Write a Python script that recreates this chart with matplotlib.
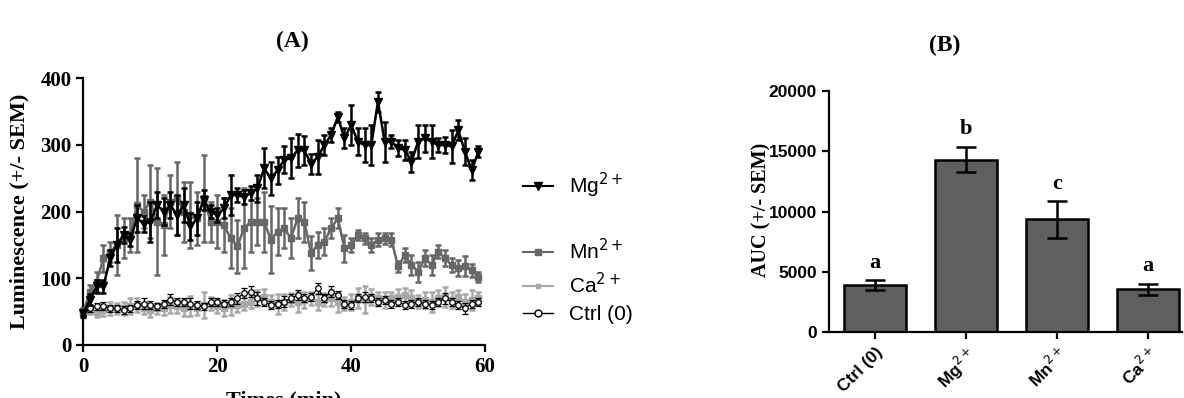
import matplotlib
matplotlib.use("Agg")
import matplotlib.pyplot as plt
from matplotlib.lines import Line2D
import numpy as np

# ---- panel A: luminescence time course ----
times = np.arange(0, 60)

mg_mean = [48, 68, 88, 88, 130, 150, 165, 158, 190, 182, 185, 210, 200, 210, 195, 210, 178, 190, 218, 200,
           195, 205, 225, 225, 222, 228, 235, 265, 250, 262, 278, 280, 292, 292, 272, 282, 300, 315, 342, 310,
           330, 305, 300, 300, 365, 305, 305, 295, 293, 275, 305, 310, 305, 300, 300, 298, 322, 290, 262, 290]
mg_sem = [5, 8, 10, 10, 12, 25, 12, 10, 20, 12, 30, 20, 20, 20, 30, 25, 20, 25, 15, 10,
          10, 15, 30, 10, 10, 10, 20, 30, 25, 20, 20, 30, 25, 22, 15, 25, 15, 10, 8, 15,
          30, 20, 25, 30, 15, 30, 10, 12, 15, 15, 25, 20, 25, 10, 12, 25, 15, 20, 15, 8]

mn_mean = [50, 80, 95, 130, 140, 150, 160, 165, 210, 200, 215, 185, 180, 215, 220, 200, 195, 190, 220, 185,
           185, 180, 160, 148, 175, 185, 185, 185, 158, 170, 175, 160, 190, 185, 138, 150, 155, 175, 190, 145,
           150, 165, 160, 150, 158, 160, 158, 118, 135, 120, 110, 130, 120, 140, 130, 120, 115, 118, 112, 102]
mn_sem = [5, 10, 15, 20, 15, 45, 30, 25, 70, 25, 55, 80, 45, 40, 55, 45, 50, 40, 65, 30,
          40, 40, 45, 40, 60, 45, 35, 45, 50, 35, 30, 30, 30, 30, 25, 20, 20, 15, 15, 20,
          10, 8, 8, 10, 10, 8, 10, 8, 10, 15, 15, 12, 15, 10, 12, 10, 12, 15, 10, 8]

ca_mean = [50, 52, 50, 52, 55, 55, 55, 58, 60, 55, 52, 55, 55, 60, 58, 55, 58, 55, 60, 62,
           58, 55, 60, 60, 62, 65, 70, 72, 65, 62, 65, 68, 65, 68, 70, 65, 68, 70, 65, 62,
           65, 70, 68, 72, 70, 68, 70, 72, 75, 70, 65, 68, 65, 70, 72, 68, 72, 65, 68, 70]
ca_sem = [5, 6, 8, 8, 10, 8, 10, 12, 10, 8, 10, 8, 10, 12, 10, 12, 15, 10, 20, 10,
          10, 12, 15, 10, 10, 10, 12, 12, 10, 15, 12, 10, 15, 12, 10, 12, 10, 12, 15, 10,
          12, 15, 20, 12, 10, 12, 10, 12, 10, 12, 10, 12, 15, 12, 15, 12, 10, 12, 15, 10]

ctrl_mean = [45, 55, 58, 58, 55, 55, 52, 55, 60, 62, 60, 58, 62, 68, 65, 65, 62, 60, 58, 65,
             65, 62, 65, 70, 78, 80, 70, 65, 60, 62, 65, 70, 75, 70, 72, 85, 70, 80, 75, 62,
             60, 70, 72, 70, 65, 68, 62, 65, 60, 62, 65, 62, 60, 65, 70, 65, 60, 55, 62, 65]
ctrl_sem = [4, 5, 5, 6, 5, 5, 6, 5, 6, 8, 6, 5, 6, 8, 6, 6, 8, 6, 5, 6,
            6, 5, 6, 8, 8, 8, 10, 6, 6, 6, 8, 6, 8, 6, 6, 8, 6, 8, 6, 6,
            6, 6, 8, 6, 6, 6, 6, 6, 6, 6, 6, 6, 6, 6, 8, 6, 6, 8, 6, 6]

# ---- panel B: AUC ----
groups = ["Ctrl (0)", "Mg$^{2+}$", "Mn$^{2+}$", "Ca$^{2+}$"]
auc_mean = [3900, 14300, 9350, 3550]
auc_sem = [400, 1050, 1500, 480]
auc_letters = ["a", "b", "c", "a"]

SERIF = "Liberation Serif"
SANS = "Liberation Sans"

MG_C, MN_C, CA_C = "black", "#676767", "#a8a8a8"

fig = plt.figure(figsize=(11.84, 3.98), dpi=100)

# panel A
ax = fig.add_axes([0.0704, 0.1332, 0.3393, 0.670])
ax.errorbar(times, ctrl_mean, yerr=ctrl_sem, color="black", lw=0.9, marker="o", ms=4,
            mfc="white", mec="black", mew=0.9, capsize=2, elinewidth=1.0, zorder=3, clip_on=False)
ax.errorbar(times, ca_mean, yerr=ca_sem, color=CA_C, lw=1.5, marker="s", ms=4,
            capsize=2.5, elinewidth=1.8, capthick=1.8, zorder=2, clip_on=False)
ax.errorbar(times, mn_mean, yerr=mn_sem, color=MN_C, lw=1.8, marker="s", ms=4.5,
            capsize=2.5, elinewidth=1.8, capthick=1.8, zorder=4, clip_on=False)
ax.errorbar(times, mg_mean, yerr=mg_sem, color=MG_C, lw=1.8, marker="v", ms=6,
            capsize=2.5, elinewidth=1.8, capthick=1.8, zorder=5, clip_on=False)

ax.set_xlim(0, 60)
ax.set_ylim(0, 400)
ax.set_xticks([0, 20, 40, 60])
ax.set_yticks([0, 100, 200, 300, 400])
for s in ["top", "right"]:
    ax.spines[s].set_visible(False)
for s in ["left", "bottom"]:
    ax.spines[s].set_linewidth(1.6)
ax.tick_params(direction="out", length=5, width=1.6, labelsize=15)
for lab in ax.get_xticklabels() + ax.get_yticklabels():
    lab.set_fontfamily(SERIF)
    lab.set_fontweight("bold")
ax.set_ylabel("Luminescence (+/- SEM)", fontfamily=SERIF, fontweight="bold", fontsize=16)
ax.yaxis.set_label_coords(-0.133, 0.50)
ax.set_xlabel("Times (min)", fontfamily=SERIF, fontweight="bold", fontsize=16, labelpad=10)

fig.text(0.247, 0.895, "(A)", fontfamily=SERIF, fontweight="bold", fontsize=17, ha="center", va="center")

h_mg = Line2D([], [], color=MG_C, lw=1.5, marker="v", ms=6)
h_mn = Line2D([], [], color=MN_C, lw=1.5, marker="s", ms=4.5)
h_ca = Line2D([], [], color=CA_C, lw=1.5, marker="s", ms=3.5)
h_ctrl = Line2D([], [], color="black", lw=1.0, marker="o", ms=5, mfc="white", mec="black")
leg_font = {"family": SANS, "size": 15}
leg1 = fig.legend([h_mg], ["Mg$^{2+}$"], loc="center left", bbox_to_anchor=(0.426, 0.535),
                  frameon=False, prop=leg_font, handlelength=1.45, handletextpad=0.75)
leg2 = fig.legend([h_mn, h_ca, h_ctrl], ["Mn$^{2+}$", "Ca$^{2+}$", "Ctrl (0)"], loc="center left",
                  bbox_to_anchor=(0.426, 0.293), frameon=False, prop=leg_font,
                  handlelength=1.45, handletextpad=0.75, labelspacing=0.4)

# panel B
bx = fig.add_axes([0.700, 0.165, 0.298, 0.607])
xpos = np.arange(len(groups))
bx.bar(xpos, auc_mean, width=0.68, color="#5f5f5f", edgecolor="black", linewidth=1.8, zorder=2)
bx.errorbar(xpos, auc_mean, yerr=auc_sem, fmt="none", ecolor="black", elinewidth=1.8,
            capsize=7, capthick=1.8, zorder=3)
for x, m, e, t in zip(xpos, auc_mean, auc_sem, auc_letters):
    bx.text(x, m + e + 1450, t, ha="center", va="center", fontfamily=SERIF,
            fontweight="bold", fontsize=16)
bx.set_xlim(-0.505, 3.37)
bx.set_ylim(0, 20000)
bx.set_yticks([0, 5000, 10000, 15000, 20000])
bx.set_xticks(xpos)
bx.set_xticklabels(groups, rotation=45, ha="right", rotation_mode="anchor")
for s in ["top", "right"]:
    bx.spines[s].set_visible(False)
for s in ["left", "bottom"]:
    bx.spines[s].set_linewidth(1.6)
bx.tick_params(direction="out", length=5, width=1.6, labelsize=12.5)
for lab in bx.get_xticklabels() + bx.get_yticklabels():
    lab.set_fontfamily(SANS)
    lab.set_fontweight("bold")
bx.set_ylabel("AUC (+/- SEM)", fontfamily=SERIF, fontweight="bold", fontsize=14.5)
bx.yaxis.set_label_coords(-0.163, 0.506)

fig.text(0.798, 0.887, "(B)", fontfamily=SERIF, fontweight="bold", fontsize=17, ha="center", va="center")

fig.savefig("out.png", dpi=100)
